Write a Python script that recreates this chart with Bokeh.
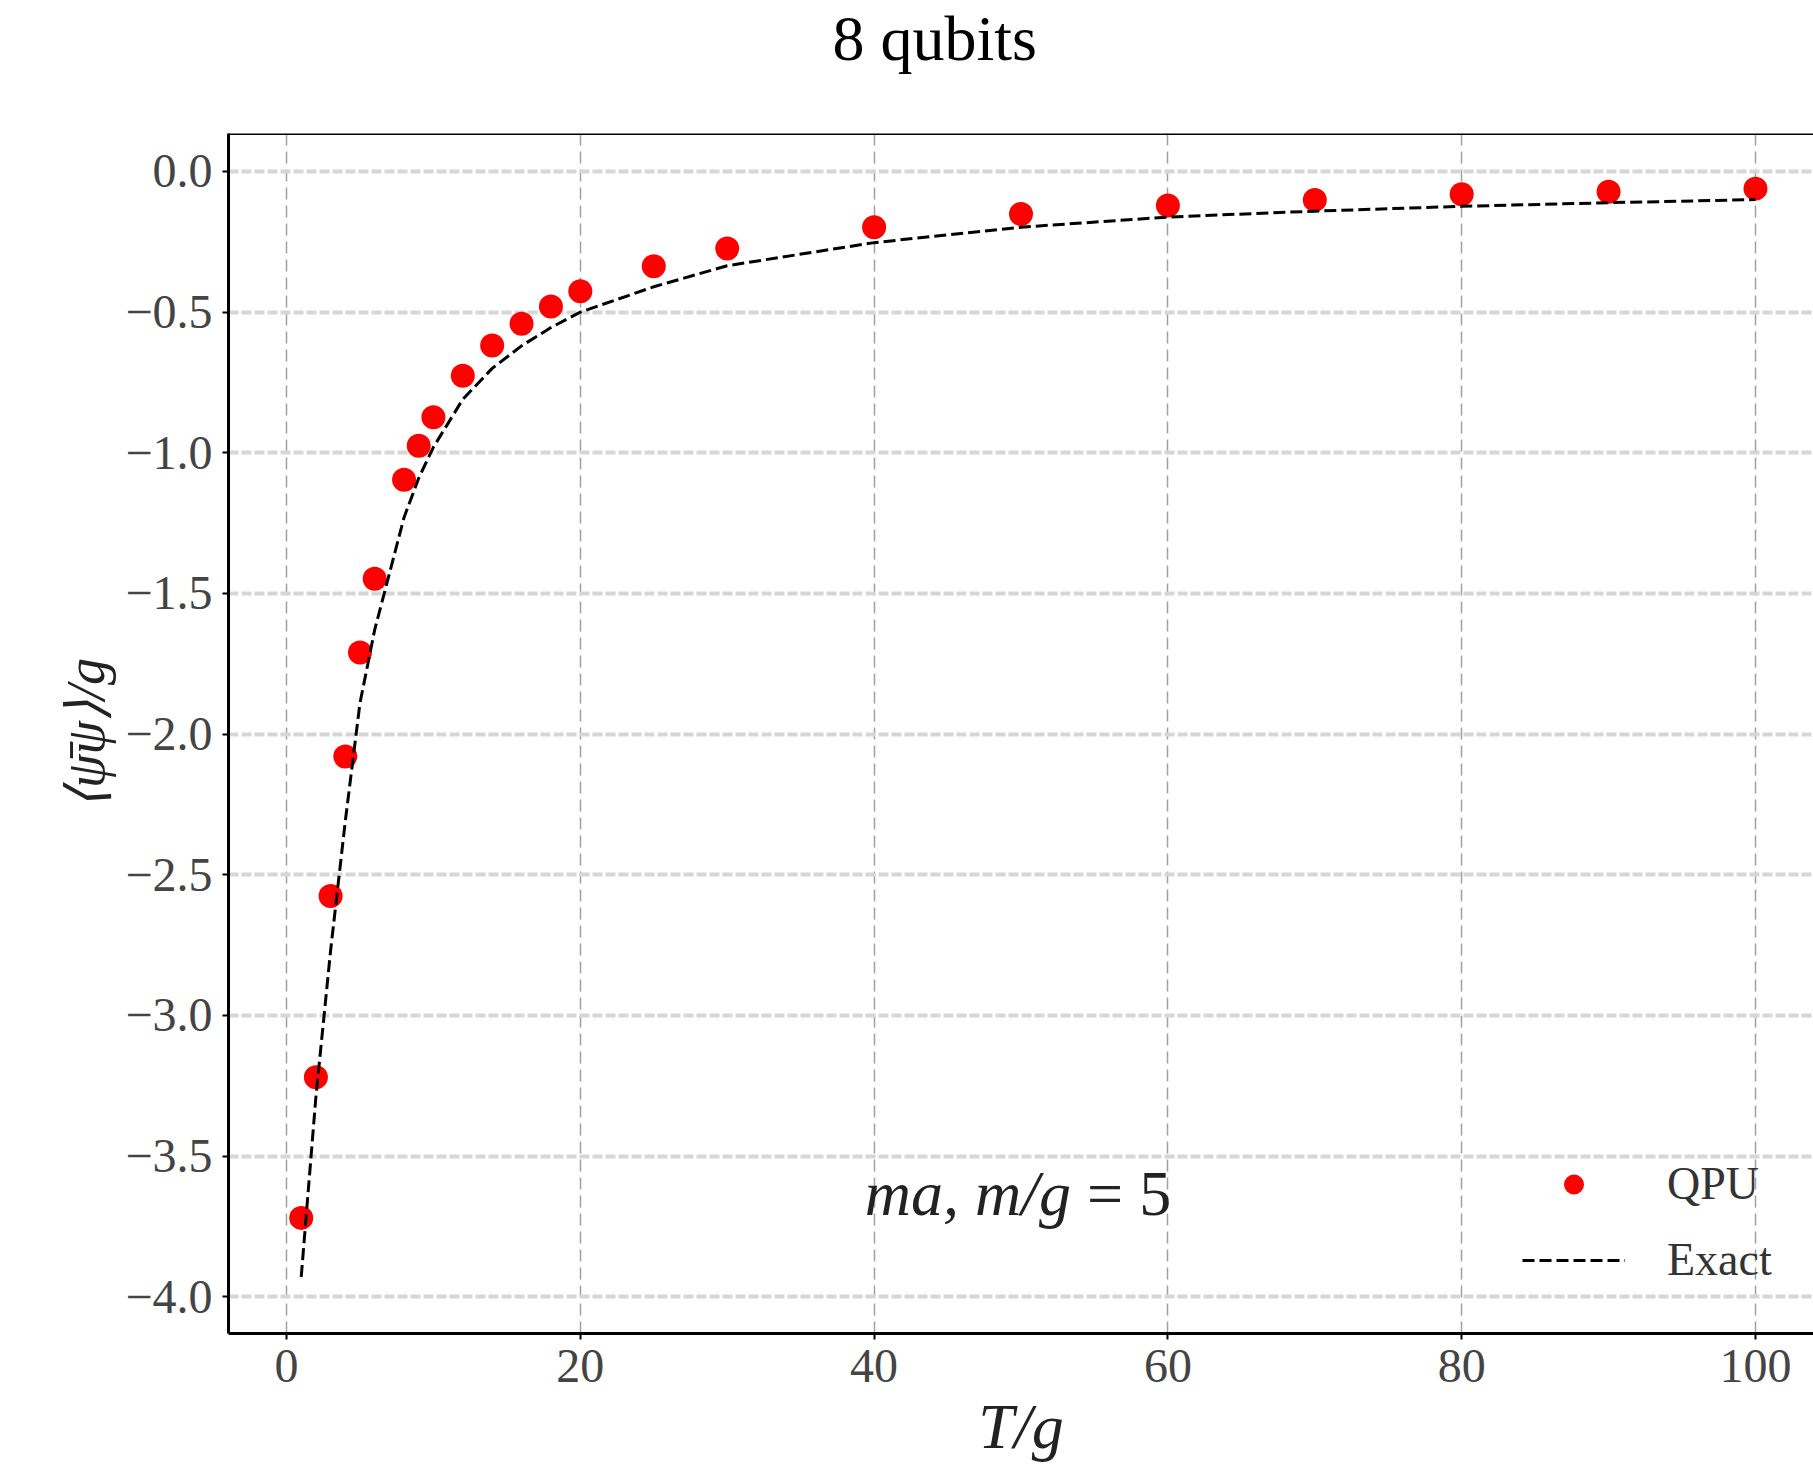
from bokeh.plotting import figure
from bokeh.models import (Range1d, FixedTicker, CustomJSTickFormatter, Legend,
                          LegendItem, Label, Span)
from bokeh.embed import file_html
from bokeh.resources import INLINE

# ---- data ----
T_values = [1, 2, 3, 4, 5, 6, 8, 9, 10, 12, 14, 16, 18, 20, 25, 30, 40, 50, 60, 70, 80, 90, 100]
qpu_values = [-3.72, -3.22, -2.576, -2.08, -1.71, -1.448, -1.096, -0.975, -0.874, -0.726,
              -0.619, -0.541, -0.48, -0.426, -0.337, -0.274, -0.198, -0.151, -0.121,
              -0.101, -0.081, -0.072, -0.061]
exact_values = [-3.93, -3.29, -2.77, -2.31, -1.89, -1.63, -1.23, -1.09, -0.98, -0.81,
                -0.70, -0.62, -0.555, -0.50, -0.41, -0.335, -0.253, -0.198, -0.162,
                -0.141, -0.124, -0.111, -0.100]
x_ticks = [0, 20, 40, 60, 80, 100]
y_ticks = [0.0, -0.5, -1.0, -1.5, -2.0, -2.5, -3.0, -3.5, -4.0]
series_labels = ["QPU", "Exact"]
title_text = "8 qubits"
x_label = "T/g"
y_label = "\u27e8\u03c8\u0304\u03c8\u27e9/g"
annotation_italic = "ma, m/g"
annotation_plain = "= 5"

SERIF = "Liberation Serif"
Y_TOP = 0.135

p = figure(width=1813, height=1464, output_backend="svg", toolbar_location=None,
           x_range=Range1d(-3.95, 103.95), y_range=Range1d(-4.131, Y_TOP),
           min_border_left=228, min_border_right=0, min_border_top=132,
           min_border_bottom=129, background_fill_color="white",
           border_fill_color="white", outline_line_color=None)

# title
p.title.text = title_text
p.title.text_font = SERIF
p.title.text_font_size = "64px"
p.title.text_font_style = "normal"
p.title.text_color = "black"
p.title.align = "left"
p.title.offset = 604
p.title.vertical_align = "bottom"
try:
    p.title.padding = dict(left=0, right=0, top=0, bottom=60)
    p.title.standoff = 0
except Exception:
    p.title.standoff = 58

# grids
p.xgrid.grid_line_color = "#a0a0a0"
p.xgrid.grid_line_width = 1.5
p.xgrid.grid_line_dash = "12 6"
p.ygrid.grid_line_color = "#d6d6d6"
p.ygrid.grid_line_width = 4
p.ygrid.grid_line_dash = "10 3"

# axes
for ax in (p.xaxis[0], p.yaxis[0]):
    ax.axis_line_width = 3
    ax.axis_line_color = "black"
    ax.major_tick_out = 6
    ax.major_tick_in = 0
    ax.major_tick_line_width = 2
    ax.minor_tick_line_color = None
    ax.major_label_text_font = SERIF
    ax.major_label_text_color = "#444444"
    ax.axis_label_text_font = SERIF
    ax.axis_label_text_font_style = "italic"
    ax.axis_label_text_color = "#222222"

p.xaxis.ticker = FixedTicker(ticks=x_ticks)
p.xaxis.major_label_text_font_size = "48px"
p.xaxis.major_label_standoff = 10
p.xaxis.axis_label = x_label
p.xaxis.axis_label_text_font_size = "64px"
p.xaxis.axis_label_standoff = 6

p.yaxis.ticker = FixedTicker(ticks=y_ticks)
p.yaxis.formatter = CustomJSTickFormatter(
    code="return (tick < 0 ? '\u2212' : '') + Math.abs(tick).toFixed(1);")
p.yaxis.major_label_text_font_size = "48px"
p.yaxis.major_label_standoff = 10
p.yaxis.axis_label = y_label
p.yaxis.axis_label_text_font_size = "54px"
p.yaxis.axis_label_standoff = 6

# top border
p.add_layout(Span(location=Y_TOP, dimension="width", line_color="black", line_width=3))

# data
r_pts = p.scatter(T_values, qpu_values, size=24, fill_color="#ff0000", line_color=None)
r_line = p.line(T_values, exact_values, line_color="black", line_width=3, line_dash="12 5")

# annotation
p.add_layout(Label(x=53.4, y=-3.635, text=annotation_italic, text_align="right",
                   text_baseline="alphabetic", text_font=SERIF, text_font_style="italic",
                   text_font_size="64px", text_color="#222222"))
p.add_layout(Label(x=54.5, y=-3.635, text=annotation_plain, text_align="left",
                   text_baseline="alphabetic", text_font=SERIF,
                   text_font_size="64px", text_color="#222222"))

legend = Legend(items=[LegendItem(label=series_labels[0], renderers=[r_pts]),
                       LegendItem(label=series_labels[1], renderers=[r_line])],
                location=(1294, 47), orientation="vertical",
                background_fill_alpha=0, border_line_color=None,
                glyph_width=103, glyph_height=50, label_height=50,
                label_standoff=42, spacing=23, padding=0, margin=0,
                label_text_font=SERIF, label_text_font_size="46px",
                label_text_color="#333333")
p.add_layout(legend)

open("out.html", "w").write(file_html(p, INLINE))
